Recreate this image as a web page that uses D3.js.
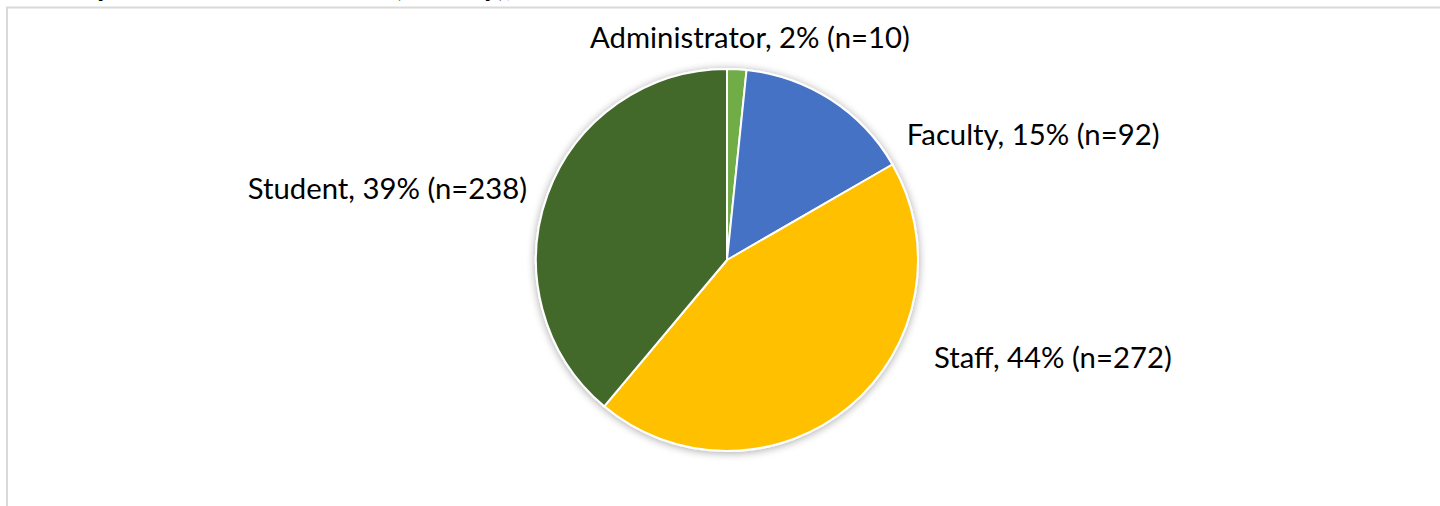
<!DOCTYPE html>
<html>
<head>
<meta charset="utf-8">
<script src="https://cdn.jsdelivr.net/npm/d3@7"></script>
<style>
    html, body { margin: 0; padding: 0; background: #fff; }
    svg { display: block; }
    text { font-family: Lato, "Noto Sans", sans-serif; fill: #000; }
</style>
</head>
<body>
<div class="pie-container"></div>
<script>
// data
let roles = ["Administrator", "Faculty", "Staff", "Student"]
let counts = [10, 92, 272, 238]
let pcts = ["2%", "15%", "44%", "39%"]

let colors = {
    Administrator: "#70ad47",
    Faculty: "#4472c4",
    Staff: "#ffc000",
    Student: "#43682b"
}

const width = 1440
const height = 506

const svg = d3.select('.pie-container')
    .append('svg')
    .attr('width', width)
    .attr('height', height)

// soft shadow under the pie
const defs = svg.append('defs')
const shadow = defs.append('filter')
    .attr('id', 'shadow')
    .attr('x', '-20%').attr('y', '-20%')
    .attr('width', '140%').attr('height', '140%')
shadow.append('feGaussianBlur')
    .attr('in', 'SourceAlpha')
    .attr('stdDeviation', 4)
    .attr('result', 'blur')
shadow.append('feOffset').attr('in', 'blur').attr('dx', 0).attr('dy', 1).attr('result', 'off')
shadow.append('feComponentTransfer').attr('in', 'off').attr('result', 'soft')
    .append('feFuncA').attr('type', 'linear').attr('slope', 0.35)
const merge = shadow.append('feMerge')
merge.append('feMergeNode').attr('in', 'soft')
merge.append('feMergeNode').attr('in', 'SourceGraphic')

// chart frame (cut off at the top like the original)
svg.append('path')
    .attr('d', `M7,${height} V7.5 H${width}`)
    .attr('fill', 'none')
    .attr('stroke', '#d9d9d9')
    .attr('stroke-width', 2)

// title, mostly above the visible area
svg.append('text')
    .attr('x', 20)
    .attr('y', -4)
    .style('font-weight', 'bold')
    .style('font-size', '30px')
    .text('Survey Role of All Members (Faculty), n=612')

const cx = 727
const cy = 260
const radius = 191

const data = roles.map((r, i) => ({ role: r, count: counts[i], pct: pcts[i] }))

const pie = d3.pie()
    .value(d => d.count)
    .sort(null)

const arc = d3.arc()
    .innerRadius(0)
    .outerRadius(radius)

const g = svg.append('g')
    .attr('transform', `translate(${cx}, ${cy})`)

const arcs = pie(data)

g.append('g')
    .attr('filter', 'url(#shadow)')
    .selectAll('path')
    .data(arcs)
    .join('path')
    .attr('d', arc)
    .attr('fill', d => colors[d.data.role])
    .attr('stroke', '#fff')
    .attr('stroke-width', 2)
    .attr('stroke-linejoin', 'round')

// label placement (best-fit style, like the office chart)
const labelLayout = {
    Administrator: { angle: 5.9, r: 223, anchor: 'middle' },
    Faculty: { angle: 55.2, r: 219, anchor: 'start' },
    Staff: { angle: 115.3, r: 229, anchor: 'start' },
    Student: { angle: 289.5, r: 212, anchor: 'end' }
}

const labels = g.append('g')
    .selectAll('text')
    .data(arcs)
    .join('text')
    .attr('transform', d => {
        let l = labelLayout[d.data.role]
        let p = d3.pointRadial(l.angle * Math.PI / 180, l.r)
        return `translate(${p[0]}, ${p[1]})`
    })
    .attr('text-anchor', d => labelLayout[d.data.role].anchor)
    .attr('dy', '0.35em')
    .style('font-size', '24px')
    .text(d => `${d.data.role}, ${d.data.pct} (n=${d.data.count})`)

// fit font size so the widest label matches the original width
const adminW = labels.filter(d => d.data.role === 'Administrator').node().getComputedTextLength()
const fs = 24 * 320 / adminW
labels.style('font-size', fs + 'px')
</script>
</body>
</html>
